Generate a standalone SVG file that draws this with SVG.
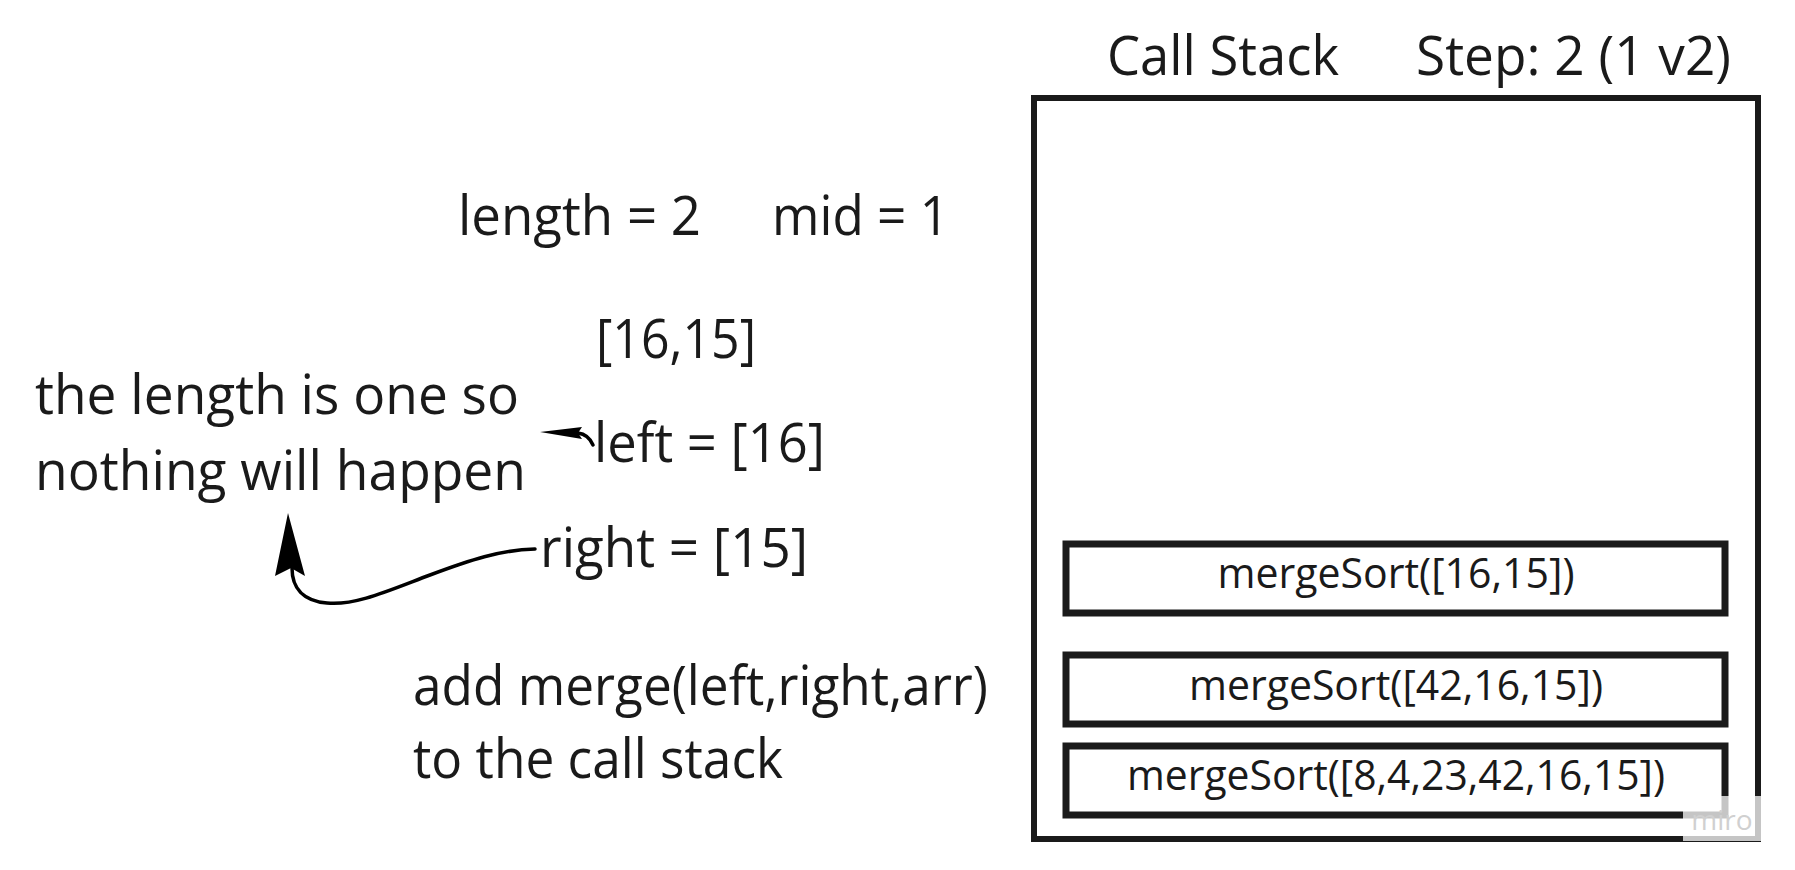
<svg xmlns="http://www.w3.org/2000/svg" width="1795" height="870" viewBox="0 0 1795 870">
<style>
text{font-family:"Open Sans","Liberation Sans",sans-serif;fill:#1a1a1a}
.big{font-size:54px}
.box{fill:none;stroke:#1a1a1a;stroke-width:7}
.frame{fill:none;stroke:#1a1a1a;stroke-width:6}
.lbl{font-size:42px;text-anchor:middle}
.conn{fill:none;stroke:#000;stroke-width:3.5;stroke-linecap:round}
</style>
<rect width="1795" height="870" fill="#fff"/>
<g id="title">
<text class="big" x="1107" y="75" textLength="232" lengthAdjust="spacingAndGlyphs">Call Stack</text>
<text class="big" x="1416" y="75" textLength="315" lengthAdjust="spacingAndGlyphs">Step: 2 (1 v2)</text>
</g>
<g id="stack">
<rect class="frame" x="1034" y="98" width="724" height="741"/>
</g>
<g id="frame1">
<rect class="box" x="1066" y="544" width="659" height="69"/>
<text class="lbl" x="1396" y="588" textLength="357" lengthAdjust="spacingAndGlyphs">mergeSort([16,15])</text>
</g>
<g id="frame2">
<rect class="box" x="1066" y="655" width="659" height="69"/>
<text class="lbl" x="1396" y="700" textLength="414" lengthAdjust="spacingAndGlyphs">mergeSort([42,16,15])</text>
</g>
<g id="frame3">
<rect class="box" x="1066" y="746" width="659" height="69"/>
<text class="lbl" x="1396" y="790" textLength="538" lengthAdjust="spacingAndGlyphs">mergeSort([8,4,23,42,16,15])</text>
</g>
<g id="vars">
<text class="big" x="458" y="235" textLength="243" lengthAdjust="spacingAndGlyphs">length = 2</text>
<text class="big" x="772" y="235" textLength="177" lengthAdjust="spacingAndGlyphs">mid = 1</text>
<text class="big" x="596" y="358" textLength="160" lengthAdjust="spacingAndGlyphs">[16,15]</text>
</g>
<g id="note">
<text class="big" x="35" y="414" textLength="484" lengthAdjust="spacingAndGlyphs">the length is one so</text>
<text class="big" x="35" y="490" textLength="491" lengthAdjust="spacingAndGlyphs">nothing will happen</text>
</g>
<g id="left">
<text class="big" x="594" y="462" textLength="231" lengthAdjust="spacingAndGlyphs">left = [16]</text>
</g>
<g id="right">
<text class="big" x="540" y="567" textLength="268" lengthAdjust="spacingAndGlyphs">right = [15]</text>
</g>
<g id="add">
<text class="big" x="413" y="705" textLength="575" lengthAdjust="spacingAndGlyphs">add merge(left,right,arr)</text>
<text class="big" x="413" y="778" textLength="370" lengthAdjust="spacingAndGlyphs">to the call stack</text>
</g>
<g id="connectors">
<path class="conn" d="M593,445 C590,438 586,434 578,433"/>
<polygon points="540,432 582,427 578,433 582,439" fill="#000"/>
<path class="conn" d="M535,549 C500,550 470,560 430,575 C390,590 355,606 327,603 C303,601 292,588 292,568"/>
<polygon points="288,513 305,576 291,568 275,576" fill="#000"/>
</g>
<g id="watermark">
<rect x="1683" y="796" width="78" height="45" fill="#fff" fill-opacity="0.75"/>
<text x="1722" y="830" font-size="28" text-anchor="middle" style="fill:#d0d0d0">miro</text>
</g>
</svg>
